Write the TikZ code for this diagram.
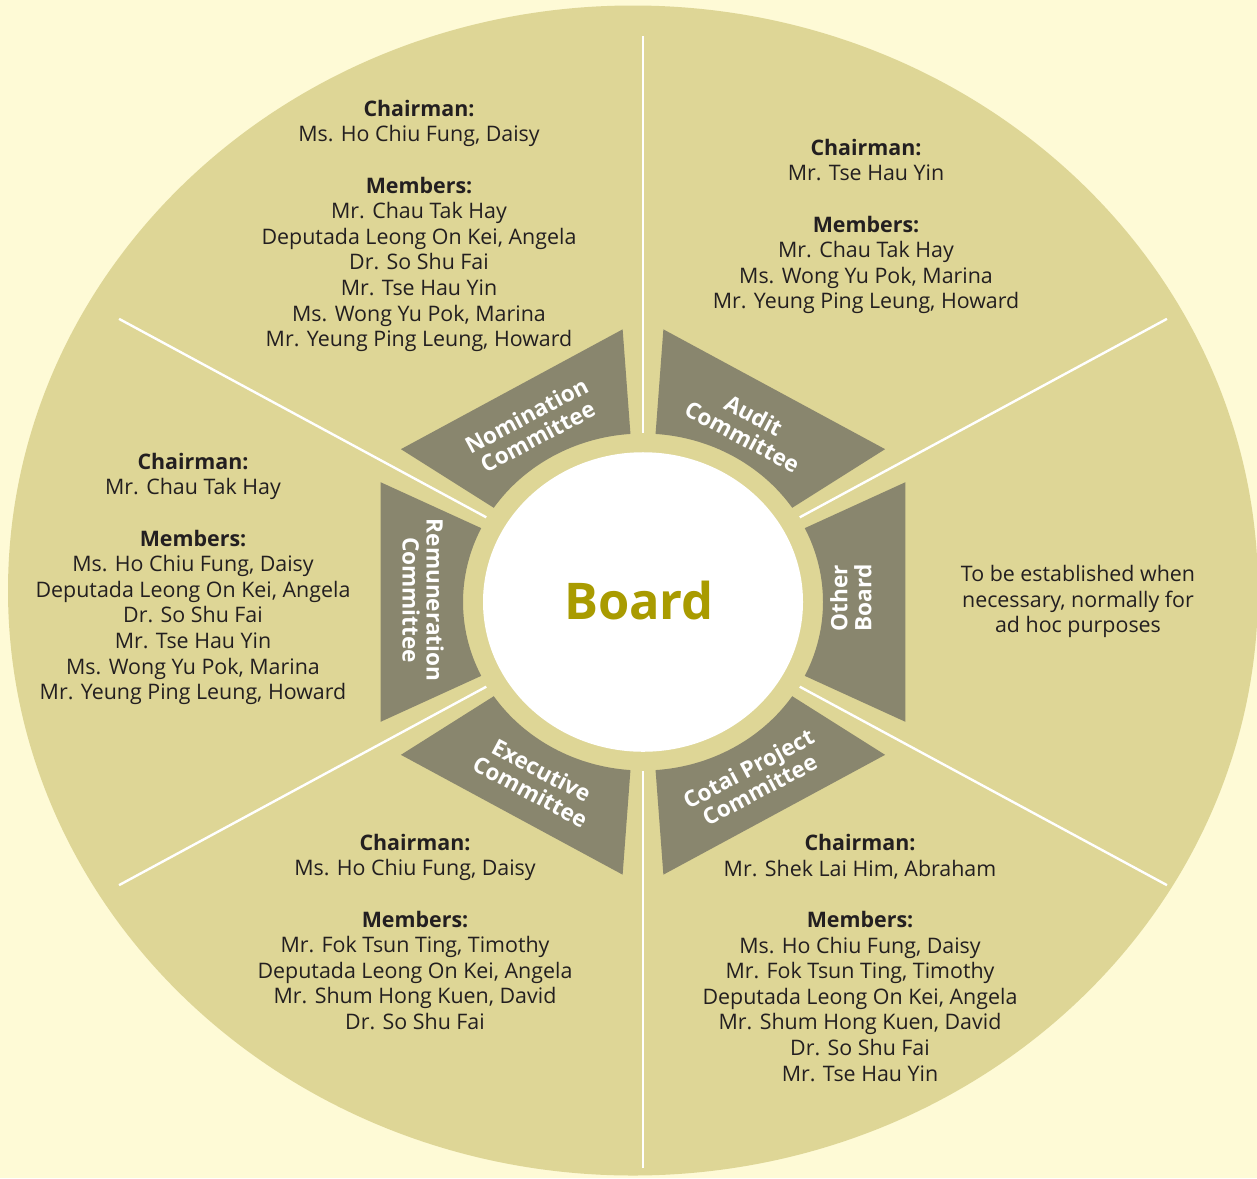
\documentclass[tikz,border=0pt]{standalone}
\usepackage{fontspec}
\setmainfont{Open Sans}
\definecolor{bgc}{HTML}{FEFAD6}
\definecolor{khaki}{HTML}{DED696}
\definecolor{trap}{HTML}{89866E}
\definecolor{boardc}{HTML}{A99B00}
\definecolor{txt}{HTML}{231F20}
\begin{document}
\begin{tikzpicture}[x=0.5pt,y=0.5pt,
  names/.style={align=center, text=txt, font=\fontsize{10.7}{12.8}\selectfont, inner sep=0pt},
  lab/.style={align=center, text=white, font=\fontsize{11.3}{12}\selectfont\bfseries, inner sep=0pt},
  divider/.style={white, line width=1.2pt},
  panel/.style={fill=trap}]
\useasboundingbox (0,0) rectangle (1257,-1178);
\clip (0,0) rectangle (1257,-1178);
\fill[bgc] (0,0) rectangle (1257,-1178);
\fill[khaki] (633,-590.5) ellipse [x radius=625, y radius=585];
\begin{scope}[shift={(643,-602)}, yscale=0.936]
  \fill[white] (0,0) circle [radius=160];
  \foreach \a in {0,60,...,300} {
    \fill[panel] (\a-26:180) arc [start angle=\a-26, end angle=\a+26, radius=180]
      -- (\a+26:292) -- (\a-26:292) -- cycle;
  }
  \foreach \a in {30,90,...,330} \draw[divider] (\a:181) -- (\a:605);
\end{scope}
\node[font=\fontsize{25.3}{28}\selectfont\bfseries, text=boardc, inner sep=0pt] (board) at (639,-601) {Board};
\node[lab, rotate=28] (nomlab) at (532,-426) {Nomination\\Committee};
\node[lab, rotate=-28] (audlab) at (748,-426) {Audit\\Committee};
\node[lab, rotate=90] (othlab) at (851,-598) {Other\\Board};
\node[lab, rotate=-90] (remlab) at (423,-600) {Remuneration\\Committee};
\node[lab, rotate=-28] (exelab) at (536,-781) {Executive\\Committee};
\node[lab, rotate=28] (cotlab) at (754,-779) {Cotai Project\\Committee};
\node[names] (nomtext) at (419,-226) {\textbf{Chairman:}\\Ms. Ho Chiu Fung, Daisy\\[12.8pt]\textbf{Members:}\\Mr. Chau Tak Hay\\Deputada Leong On Kei, Angela\\Dr. So Shu Fai\\Mr. Tse Hau Yin\\Ms. Wong Yu Pok, Marina\\Mr. Yeung Ping Leung, Howard};
\node[names] (audtext) at (866,-226.5) {\textbf{Chairman:}\\Mr. Tse Hau Yin\\[12.8pt]\textbf{Members:}\\Mr. Chau Tak Hay\\Ms. Wong Yu Pok, Marina\\Mr. Yeung Ping Leung, Howard};
\node[names] (remtext) at (193,-579) {\textbf{Chairman:}\\Mr. Chau Tak Hay\\[12.8pt]\textbf{Members:}\\Ms. Ho Chiu Fung, Daisy\\Deputada Leong On Kei, Angela\\Dr. So Shu Fai\\Mr. Tse Hau Yin\\Ms. Wong Yu Pok, Marina\\Mr. Yeung Ping Leung, Howard};
\node[names] (othtext) at (1078,-601.5) {To be established when\\necessary, normally for\\ad hoc purposes};
\node[names] (exetext) at (415,-932) {\textbf{Chairman:}\\Ms. Ho Chiu Fung, Daisy\\[12.8pt]\textbf{Members:}\\Mr. Fok Tsun Ting, Timothy\\Deputada Leong On Kei, Angela\\Mr. Shum Hong Kuen, David\\Dr. So Shu Fai};
\node[names] (cottext) at (860,-958) {\textbf{Chairman:}\\Mr. Shek Lai Him, Abraham\\[12.8pt]\textbf{Members:}\\Ms. Ho Chiu Fung, Daisy\\Mr. Fok Tsun Ting, Timothy\\Deputada Leong On Kei, Angela\\Mr. Shum Hong Kuen, David\\Dr. So Shu Fai\\Mr. Tse Hau Yin};
\end{tikzpicture}
\end{document}
